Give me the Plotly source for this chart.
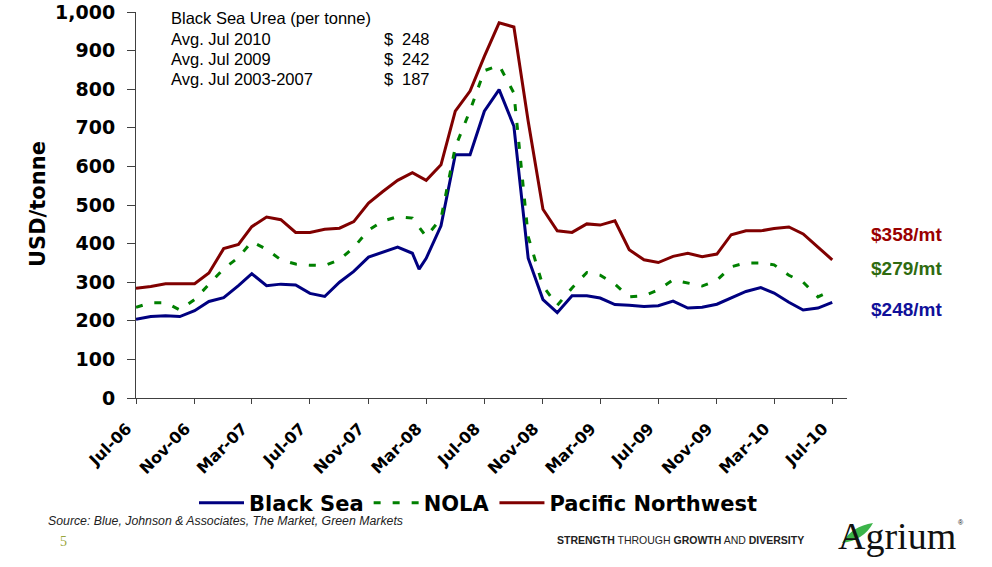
import pandas as pd
import plotly.graph_objects as go

# ---- data -------------------------------------------------------------
months = pd.date_range("2006-07-01", "2010-07-01", freq="MS")

pacific_northwest = [284, 289, 296, 296, 296, 324, 387, 398, 444, 469,
                     462, 429, 429, 437, 440, 457, 505, 535, 564, 584,
                     564, 604, 743, 795, 885, 972, 961, 717, 489, 433,
                     429, 451, 448, 459, 384, 358, 351, 367, 375, 366,
                     373, 423, 433, 433, 439, 443, 425, 391, 358]

nola = [235, 247, 247, 228, 255, 295, 335, 364, 405, 385,
        358, 347, 344, 343, 358, 390, 435, 458, 470, 466,
        418, 465, 650, 745, 848, 862, 790, 418, 290, 240,
        285, 325, 318, 295, 262, 265, 280, 306, 297, 290,
        305, 340, 350, 350, 345, 318, 300, 262, 279]

# Black Sea has one extra mid-month quote in February 2008
black_sea_extra_date = pd.Timestamp("2008-02-15")
black_sea_extra_value = 334
black_sea = [204, 211, 213, 211, 226, 250, 260, 291, 322, 291,
             295, 293, 271, 263, 300, 328, 365, 378, 391, 375,
             362, 446, 630, 630, 743, 799, 704, 362, 255, 221,
             265, 265, 259, 242, 240, 237, 239, 251, 233, 235,
             243, 260, 276, 286, 272, 248, 228, 233, 248]

tick_dates = months[::4]
tick_labels = [d.strftime("%b-%y") for d in tick_dates]

box_title = "Black Sea Urea (per tonne)"
box_rows = ["Avg. Jul 2010", "Avg. Jul 2009", "Avg. Jul 2003-2007"]
box_values = [248, 242, 187]

end_labels = [("$358/mt", "#9a0000", pacific_northwest[-1]),
              ("$279/mt", "#2f6b10", nola[-1]),
              ("$248/mt", "#10109a", black_sea[-1])]

# ---- geometry helpers (pixel -> paper) ----------------------------------
W, H = 992, 567
L, R, T, B = 136, 145, 12, 169


def px(x):
    return (x - L) / (W - L - R)


def py(y):
    return (H - B - y) / (H - T - B)


# ---- series -----------------------------------------------------------
bs_dates = list(months[:20]) + [black_sea_extra_date] + list(months[20:])
bs_values = black_sea[:20] + [black_sea_extra_value] + black_sea[20:]

BOLD = "DejaVu Sans"
fig = go.Figure()
fig.add_trace(go.Scatter(x=bs_dates, y=bs_values, name="Black Sea", mode="lines",
                         line=dict(color="#000080", width=3)))
fig.add_trace(go.Scatter(x=months, y=nola, name="NOLA", mode="lines",
                         line=dict(color="#008000", width=3, dash="7px,12px")))
fig.add_trace(go.Scatter(x=months, y=pacific_northwest, name="Pacific Northwest",
                         mode="lines", line=dict(color="#800000", width=3)))

fig.update_layout(
    width=W, height=H,
    margin=dict(l=L, r=R, t=T, b=B, autoexpand=False),
    paper_bgcolor="white", plot_bgcolor="white",
    showlegend=True,
    legend=dict(orientation="h", x=px(478), xanchor="center",
                y=py(503), yanchor="middle",
                font=dict(family=BOLD, size=21, color="black", weight="bold"),
                itemwidth=45, tracegroupgap=0),
)

fig.update_xaxes(
    type="date", range=["2006-07-01", "2010-08-01"], automargin=False,
    tickvals=tick_dates, ticktext=tick_labels, tickangle=-45,
    ticks="outside", ticklen=5, tickcolor="#404040",
    showline=True, linecolor="#404040", linewidth=1,
    showgrid=False, zeroline=False, ticklabelstandoff=9, ticklabelshift=-9,
    tickfont=dict(family=BOLD, size=16, color="black", weight="bold"),
)
fig.update_yaxes(
    range=[0, 1000], dtick=100, tickformat=",", automargin=False,
    ticks="outside", ticklen=8, tickcolor="#404040",
    showline=True, linecolor="#404040", linewidth=1,
    showgrid=False, zeroline=False, ticklabelstandoff=8,
    tickfont=dict(family=BOLD, size=19, color="black", weight="bold"),
)

ann = []
# y-axis title
ann.append(dict(text="USD/tonne", x=px(24), y=py(204), xref="paper", yref="paper",
                textangle=-90, showarrow=False,
                font=dict(family=BOLD, size=21, color="black", weight="bold")))

# summary box
REG = "Liberation Sans"
ann.append(dict(text=box_title, x=px(169), y=py(18), xref="paper", yref="paper",
                xanchor="left", yanchor="middle", showarrow=False,
                font=dict(family=REG, size=16.5, color="black")))
for k, (row, val) in enumerate(zip(box_rows, box_values)):
    yy = 38.5 + 20.3 * k
    ann.append(dict(text=row, x=px(169), y=py(yy), xref="paper", yref="paper",
                    xanchor="left", yanchor="middle", showarrow=False,
                    font=dict(family=REG, size=16.5, color="black")))
    ann.append(dict(text="$", x=px(382), y=py(yy), xref="paper", yref="paper",
                    xanchor="left", yanchor="middle", showarrow=False,
                    font=dict(family=REG, size=16.5, color="black")))
    ann.append(dict(text=str(val), x=px(432), y=py(yy), xref="paper", yref="paper",
                    xanchor="right", yanchor="middle", showarrow=False,
                    font=dict(family=REG, size=16.5, color="black")))

# end-of-series price labels
for (txt, col, _), yy in zip(end_labels, [234, 268, 309]):
    ann.append(dict(text=txt, x=px(869), y=py(yy), xref="paper", yref="paper",
                    xanchor="left", yanchor="middle", showarrow=False,
                    font=dict(family=REG, size=19, color=col, weight="bold")))

# footer
ann.append(dict(text="<i>Source: Blue, Johnson & Associates, The Market, Green Markets</i>",
                x=px(46), y=py(521), xref="paper", yref="paper",
                xanchor="left", yanchor="middle", showarrow=False,
                font=dict(family=REG, size=12.3, color="#222222")))
ann.append(dict(text="5", x=px(58), y=py(541), xref="paper", yref="paper",
                xanchor="left", yanchor="middle", showarrow=False,
                font=dict(family="Liberation Serif", size=14, color="#9aa63c")))
ann.append(dict(text="<b>STRENGTH</b> THROUGH <b>GROWTH</b> AND <b>DIVERSITY</b>",
                x=px(555), y=py(540), xref="paper", yref="paper",
                xanchor="left", yanchor="middle", showarrow=False,
                font=dict(family=REG, size=10.5, color="#222222")))
ann.append(dict(text="Agrium", x=px(836), y=py(536), xref="paper", yref="paper",
                xanchor="left", yanchor="middle", showarrow=False,
                font=dict(family="Liberation Serif", size=38, color="#111111")))
ann.append(dict(text="®", x=px(956), y=py(522), xref="paper", yref="paper",
                xanchor="left", yanchor="middle", showarrow=False,
                font=dict(family=REG, size=7, color="#111111")))
fig.update_layout(annotations=ann)

# green swoosh across the logo's "A"
p0 = (px(842), py(543))
p1 = (px(873), py(523))
c1 = (px(852), py(526))
c2 = (px(864), py(540))
swoosh = (f"M {p0[0]},{p0[1]} Q {c1[0]},{c1[1]} {p1[0]},{p1[1]} "
          f"Q {c2[0]},{c2[1]} {p0[0]},{p0[1]} Z")
fig.add_shape(type="path", path=swoosh, xref="paper", yref="paper",
              fillcolor="#3cb44a", line=dict(width=0))

fig.write_html("out.html")
